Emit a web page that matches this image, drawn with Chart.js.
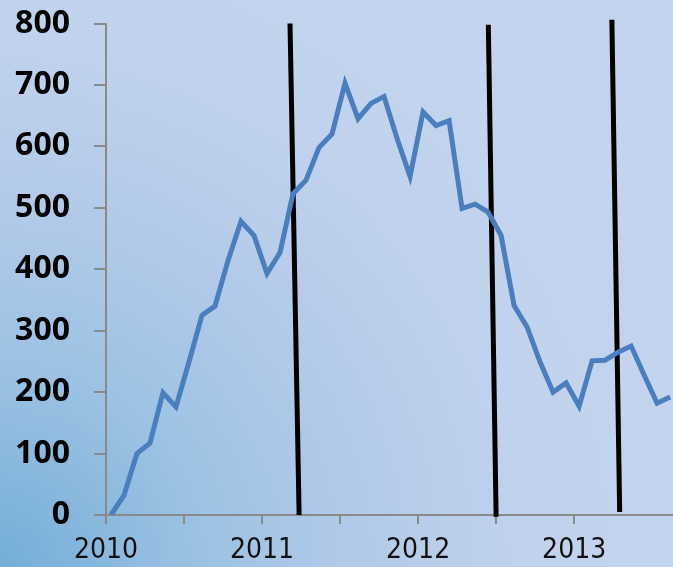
<!DOCTYPE html>
<html>
<head>
<meta charset="utf-8">
<script src="https://cdn.jsdelivr.net/npm/chart.js@4.4.0/dist/chart.umd.min.js"></script>
<style>
  html, body { margin: 0; padding: 0; }
  body {
    width: 673px; height: 567px; overflow: hidden;
    background: radial-gradient(circle at 0 100%, #74aed6 0px, #9cc2e3 200px, #b0c9e8 340px, #c0d2ed 520px, #c4d4ee 700px);
  }
  canvas { display: block; }
</style>
</head>
<body>
<canvas id="chart" width="673" height="567"></canvas>
<script>
// monthly values, Jan 2010 .. Aug 2013
const values = [0, 32, 100, 117, 199, 176, 249, 325, 340, 414, 478, 455,
  393, 427, 523, 545, 598, 620, 703, 645, 670, 681, 613, 551,
  656, 634, 642, 499, 506, 493, 455, 341, 306, 249, 200, 215,
  177, 251, 252, 265, 275, 228, 182, 192];
const yearLabels = ['2010', '2011', '2012', '2013'];
const yTicks = [0, 100, 200, 300, 400, 500, 600, 700, 800];

// hand drawn black dividers (months since Jan 2010, value units)
const dividerTopX = [14.15, 29.4, 38.9];
const dividerBottomX = [14.85, 30.0, 39.5];
const dividerTopY = [800, 798, 806];
const dividerBottomY = [0, -3, 5];

const seriesPoints = values.map((v, i) => ({ x: i + 0.38, y: v }));

const dividerSets = dividerTopX.map((tx, i) => ({
  data: [{ x: tx, y: dividerTopY[i] }, { x: dividerBottomX[i], y: dividerBottomY[i] }],
  borderColor: '#000',
  borderWidth: 5,
  pointRadius: 0,
  clip: false,
  tension: 0
}));

const ctx = document.getElementById('chart').getContext('2d');
new Chart(ctx, {
  type: 'line',
  data: {
    datasets: [{
      data: seriesPoints,
      borderColor: '#4a7ebf',
      borderWidth: 5,
      pointRadius: 0,
      tension: 0
    }].concat(dividerSets)
  },
  options: {
    responsive: false,
    animation: false,
    layout: { padding: { top: 23.5, right: 0, left: 0, bottom: 0 } },
    plugins: { legend: { display: false }, tooltip: { enabled: false } },
    scales: {
      x: {
        type: 'linear',
        min: 0,
        max: 43.6,
        afterFit: s => { s.height = 52; s.paddingLeft = 0; s.paddingRight = 0; },
        afterBuildTicks: s => { s.ticks = s.ticks.filter(t => t.value % 6 === 0); },
        ticks: {
          stepSize: 6,
          autoSkip: false,
          maxRotation: 0,
          padding: 10,
          color: '#111',
          font: { family: '"Liberation Sans Narrow", "DejaVu Sans Condensed", sans-serif', size: 28 },
          callback: v => (v % 12 === 0 ? yearLabels[v / 12] : '')
        },
        grid: { drawOnChartArea: false, drawTicks: true, tickLength: 9, color: '#8a8a8a', lineWidth: 2 },
        border: { color: '#8a8a8a', width: 2 }
      },
      y: {
        min: 0,
        max: 800,
        afterFit: s => { s.width = 106; s.paddingTop = 0; s.paddingBottom = 0; },
        afterBuildTicks: s => { s.ticks = yTicks.map(v => ({ value: v })); },
        ticks: {
          padding: 24,
          color: '#000',
          font: { family: '"Open Sans", sans-serif', size: 32, weight: 'bold' }
        },
        grid: { drawOnChartArea: false, drawTicks: true, tickLength: 12, color: '#8a8a8a', lineWidth: 2 },
        border: { color: '#8a8a8a', width: 2 }
      }
    }
  }
});
</script>
</body>
</html>
